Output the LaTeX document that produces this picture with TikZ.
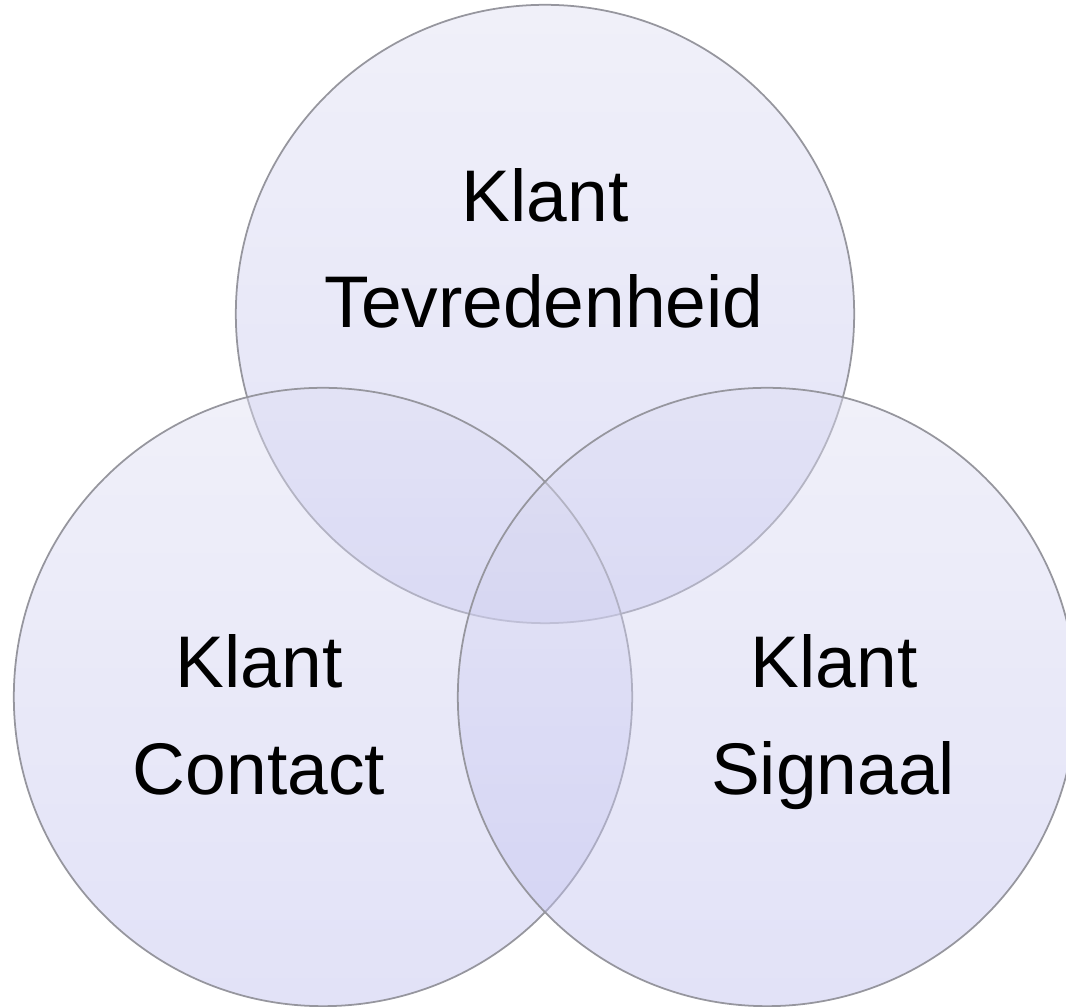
\documentclass[tikz,border=0pt]{standalone}
\usepackage{fontspec}
\setmainfont{Liberation Sans}
\definecolor{venntop}{RGB}{222,222,242}
\definecolor{vennbottom}{RGB}{190,190,238}
\definecolor{venngray}{RGB}{150,150,158}
\tikzset{
  venn/.style={circle, draw=venngray, line width=0.5pt, minimum size=6.18cm, inner sep=0pt,
    top color=venntop, bottom color=vennbottom, fill opacity=0.45, draw opacity=1},
  vennlabel/.style={anchor=base, inner sep=0pt, text=black, font=\fontsize{20.8}{25}\selectfont}
}

\begin{document}
\begin{tikzpicture}[x=0.01cm, y=-0.01cm]
  \useasboundingbox (0,0) rectangle (1066,1007);
  \clip (0,0) rectangle (1066,1007);
  % three overlapping sets
  \node[venn] (tevreden) at (545,314) {};
  \node[venn] (contact) at (323,697) {};
  \node[venn] (signaal) at (767,697) {};

  % set names
  \node[vennlabel] (tevreden1) at (545,222) {Klant};
  \node[vennlabel] (tevreden2) at (544,328) {Tevredenheid};
  \node[vennlabel] (contact1) at (259,688) {Klant};
  \node[vennlabel] (contact2) at (259,795) {Contact};
  \node[vennlabel] (signaal1) at (834,688) {Klant};
  \node[vennlabel] (signaal2) at (833,795) {Signaal};
\end{tikzpicture}
\end{document}
